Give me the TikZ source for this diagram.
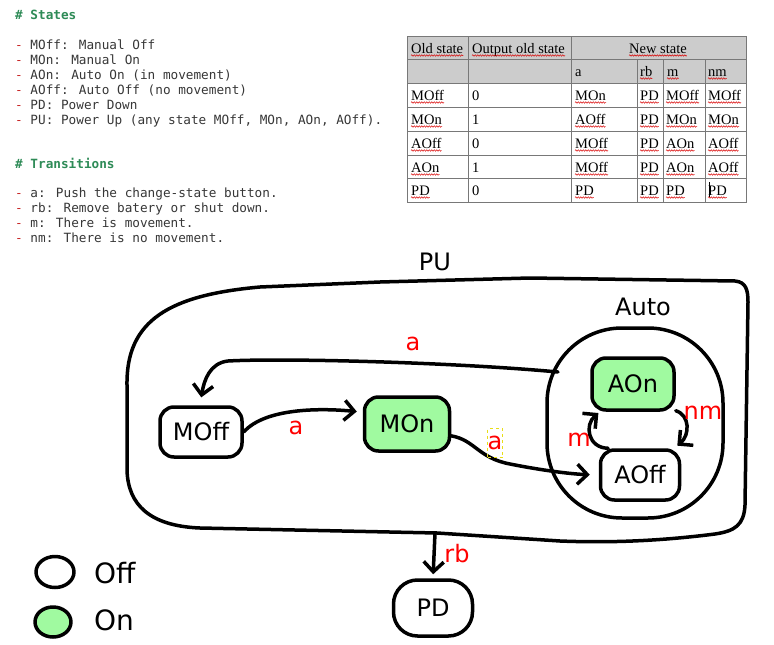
\documentclass[tikz,border=0pt]{standalone}
\usepackage{fontspec}
\usetikzlibrary{arrows.meta,shapes.geometric,calc,decorations.pathmorphing}
\newfontfamily\dvs{DejaVu Sans}
\newfontfamily\monof{DejaVu Sans Mono}
\newfontfamily\serf{Liberation Serif}
\definecolor{ongreen}{RGB}{160,250,160}
\definecolor{hdrgreen}{RGB}{46,139,87}
\definecolor{dashred}{RGB}{200,40,40}
\definecolor{txtgray}{RGB}{55,55,55}
\definecolor{tblgray}{RGB}{204,204,204}
\definecolor{tblline}{RGB}{120,120,120}
\begin{document}
\begin{tikzpicture}[x=1pt,y=-1pt,
  hand/.style={line width=3.5pt, line cap=round, line join=round},
  stnode/.style={draw, hand, rounded corners=14pt, font=\dvs\fontsize{24}{28}\selectfont, inner sep=0pt},
  onst/.style={stnode, fill=ongreen},
  conn/.style={hand, -{Straight Barb[length=10pt,width=20pt]}},
  lbl/.style={text=red, font=\dvs\fontsize{24}{28}\selectfont, inner sep=0pt},
  bigtxt/.style={font=\dvs\fontsize{24}{28}\selectfont, inner sep=0pt},
  legtxt/.style={font=\dvs\fontsize{28}{32}\selectfont, inner sep=0pt, anchor=west},
  mono/.style={anchor=base west, inner sep=0pt, font=\monof\fontsize{12.7}{15}\selectfont, text=txtgray},
  tcell/.style={anchor=base west, inner sep=0pt, font=\serf\fontsize{14.5}{17}\selectfont},
  tline/.style={draw=tblline, line width=0.8pt},
  squig/.style={draw=red!85!black, line width=0.5pt, decorate, decoration={snake, segment length=2.5pt, amplitude=0.7pt}},
]
\useasboundingbox (0,0) rectangle (774,645);
\fill[white] (0,0) rectangle (774,645);

% ---------- text notes ----------
\node[mono] (s0) at (15,19.5) {\textcolor{hdrgreen}{\bfseries\# States}};
\node[mono] (s1) at (15,49.5) {\textcolor{dashred}{-} MOff: Manual Off};
\node[mono] (s2) at (15,64.5) {\textcolor{dashred}{-} MOn: Manual On};
\node[mono] (s3) at (15,79.5) {\textcolor{dashred}{-} AOn: Auto On (in movement)};
\node[mono] (s4) at (15,94.5) {\textcolor{dashred}{-} AOff: Auto Off (no movement)};
\node[mono] (s5) at (15,109.5) {\textcolor{dashred}{-} PD: Power Down};
\node[mono] (s6) at (15,124.5) {\textcolor{dashred}{-} PU: Power Up (any state MOff, MOn, AOn, AOff).};
\node[mono] (t0) at (15,168.5) {\textcolor{hdrgreen}{\bfseries\# Transitions}};
\node[mono] (t1) at (15,197.5) {\textcolor{dashred}{-} a: Push the change-state button.};
\node[mono] (t2) at (15,212.5) {\textcolor{dashred}{-} rb: Remove batery or shut down.};
\node[mono] (t3) at (15,227.5) {\textcolor{dashred}{-} m: There is movement.};
\node[mono] (t4) at (15,242.5) {\textcolor{dashred}{-} nm: There is no movement.};

% ---------- table ----------
\fill[tblgray] (407,36) rectangle (746,83);
\draw[tline] (407,36) rectangle (746,202);
\foreach \yy in {59.5,83,107,131,155,178.5} \draw[tline] (407,\yy) -- (746,\yy);
\foreach \xx in {468,571} \draw[tline] (\xx,36) -- (\xx,202);
\foreach \xx in {637,663,705} \draw[tline] (\xx,59.5) -- (\xx,202);
\node[tcell] (h1) at (411,53) {Old state};
\node[tcell] (h2) at (472,53) {Output old state};
\node[tcell, anchor=base] (h3) at (658,53) {New state};
\node[tcell] (h4) at (575,76) {a};
\node[tcell] (h5) at (640,76) {rb};
\node[tcell] (h6) at (667,76) {m};
\node[tcell] (h7) at (708,76) {nm};
\foreach \h in {h1,h2,h3,h5,h6,h7}
  \draw[squig] ($(\h.base west)+(0,2.5)$) -- ($(\h.base east)+(0,2.5)$);
\foreach \r/\yy/\c/\o/\a/\b/\m/\n in {
  1/100/MOff/0/MOn/PD/MOff/MOff,
  2/124/MOn/1/AOff/PD/MOn/MOn,
  3/148/AOff/0/MOff/PD/AOn/AOff,
  4/172/AOn/1/MOff/PD/AOn/AOff,
  5/195/PD/0/PD/PD/PD/PD}{
  \node[tcell] (c\r a) at (411,\yy) {\c};
  \node[tcell] (c\r b) at (472,\yy) {\o};
  \node[tcell] (c\r c) at (575,\yy) {\a};
  \node[tcell] (c\r d) at (640,\yy) {\b};
  \node[tcell] (c\r e) at (666,\yy) {\m};
  \node[tcell] (c\r f) at (708,\yy) {\n};
  \foreach \k in {a,c,d,e,f}
    \draw[squig] ($(c\r\k.base west)+(0,2.5)$) -- ($(c\r\k.base east)+(0,2.5)$);
}
\draw[black, line width=0.6pt] (709,182) -- (709,197);

% ---------- PU container ----------
\draw[hand] (127,385) .. controls (126,320) and (170,295) .. (260,287)
  -- (380,282) -- (530,278) -- (735,281)
  .. controls (746,282) and (748,290) .. (748,302)
  -- (745,505) .. controls (744,525) and (735,531) .. (715,534)
  .. controls (660,541) and (610,543) .. (560,541)
  -- (437,533) -- (200,528)
  .. controls (150,526) and (128,505) .. (127,470) -- cycle;
\node[bigtxt] (pu) at (435,262) {PU};
\coordinate (pub) at (435,533);

% ---------- Auto container ----------
\node[draw, hand, rounded corners=75pt, minimum width=176pt, minimum height=190pt, inner sep=0pt] (auto) at (635,423) {};
\node[bigtxt] (autolbl) at (643,307) {Auto};
\coordinate (autoexit) at (558,372);

% ---------- states ----------
\node[stnode, minimum width=82pt, minimum height=50pt] (MOff) at (201,432) {MOff};
\node[onst, minimum width=85pt, minimum height=54pt] (MOn) at (407,424) {MOn};
\node[onst, minimum width=82pt, minimum height=52pt] (AOn) at (633,384) {AOn};
\node[stnode, minimum width=79pt, minimum height=50pt] (AOff) at (640,475) {AOff};
\node[stnode, rounded corners=24pt, minimum width=79pt, minimum height=56pt] (PD) at (433,608) {PD};

% ---------- transitions ----------
\draw[conn, shorten >=6pt] (MOff.east) .. controls (265,408) and (320,408) .. (MOn.165);
\node[lbl] (la1) at (296,428) {a};

\draw[conn, shorten >=8pt] (autoexit) .. controls (450,362) and (280,358) .. (228,361)
  .. controls (210,363) and (204,380) .. (MOff.92);
\node[lbl] (la2) at (413,344) {a};

\draw[conn, shorten >=9pt] (MOn.-15) .. controls (475,440) and (478,458) .. (510,464)
  .. controls (540,470) and (570,474) .. (AOff.west);
\node[lbl, draw=yellow!90!black, dashed, line width=0.7pt, minimum width=15pt, minimum height=29pt] (la3) at (495,443) {a};

\draw[conn, shorten >=2pt] (AOff.140) .. controls (588,448) and (584,425) .. (AOn.220);
\node[lbl] (lm) at (579,440) {m};

\draw[conn, shorten >=4pt] (AOn.-32) .. controls (690,415) and (690,435) .. (AOff.38);
\node[lbl] (lnm) at (703,413) {nm};

\draw[conn, shorten >=4pt] (pub) -- (PD.north);
\node[lbl] (lrb) at (457,554) {rb};

% ---------- legend ----------
\node[draw, hand, ellipse, minimum width=38pt, minimum height=31pt, inner sep=0pt] (legoff) at (55,572) {};
\node[legtxt] (legofft) at (94,573) {Off};
\node[draw, hand, ellipse, fill=ongreen, minimum width=36pt, minimum height=30pt, inner sep=0pt] (legon) at (53,622) {};
\node[legtxt] (legont) at (94,620) {On};
\end{tikzpicture}
\end{document}
